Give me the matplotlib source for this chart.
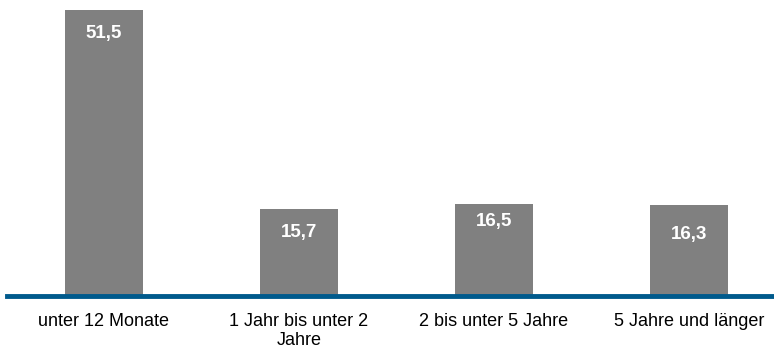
import matplotlib.pyplot as plt

categories = ["unter 12 Monate", "1 Jahr bis unter 2\nJahre", "2 bis unter 5 Jahre", "5 Jahre und länger"]
values = [51.5, 15.7, 16.5, 16.3]
value_labels = ["51,5", "15,7", "16,5", "16,3"]

plt.rcParams['font.family'] = ['Liberation Sans', 'DejaVu Sans']

fig = plt.figure(figsize=(7.74, 3.49), dpi=100)
ax = fig.add_axes([7 / 774, 53 / 349, 1 - 7 / 774, 296 / 349])

x = range(len(values))
ax.bar(x, values, width=0.4, color='#808080', zorder=1)

# label offsets below bar top (points), as placed in the original
offsets = [-17, -17, -12, -21]
for xi, v, lab, off in zip(x, values, value_labels, offsets):
    ax.annotate(lab, (xi, v), xytext=(0, off), textcoords='offset points',
                ha='center', va='center', color='white', fontsize=13.5, fontweight='bold')

ax.set_xlim(-0.497, 3.436)
ax.set_ylim(0, 53.3)
ax.set_xticks(list(x))
ax.set_xticklabels(categories, fontsize=13, linespacing=1.15)
ax.tick_params(axis='x', length=0, pad=12)
ax.set_yticks([])
for s in ['top', 'right', 'left']:
    ax.spines[s].set_visible(False)
ax.spines['bottom'].set_color('#005a8c')
ax.spines['bottom'].set_linewidth(3.5)
ax.spines['bottom'].set_zorder(3)

fig.savefig('out.png', dpi=100)
